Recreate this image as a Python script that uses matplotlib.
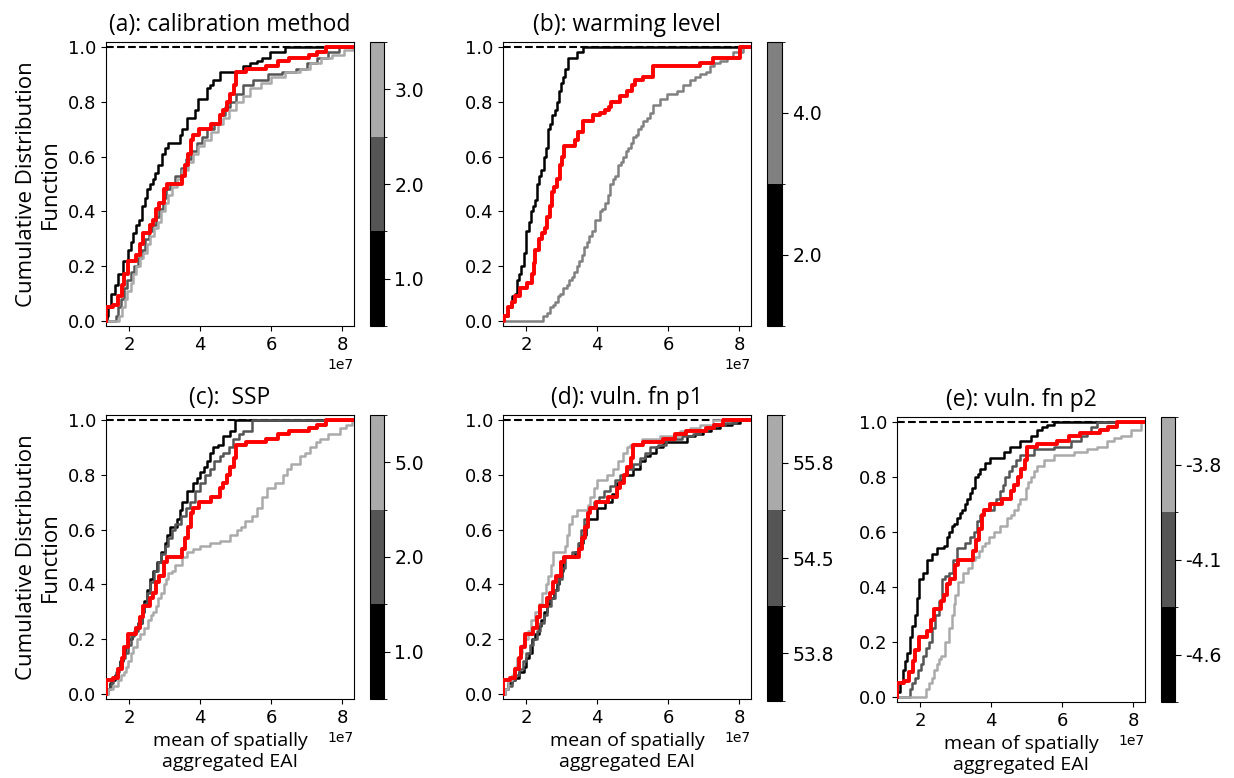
import matplotlib
matplotlib.use("Agg")
import matplotlib.pyplot as plt
import numpy as np
from matplotlib.colors import ListedColormap, BoundaryNorm
from matplotlib.cm import ScalarMappable

UNIT = 1e7
X_MIN, X_MAX = 1.35, 8.33

# ---------------- data (x in units of 1e7, cumulative fraction) ----------------
# overall distribution (red) used in panels a, c, d, e
all_x = [1.35, 1.55, 1.7, 1.8, 1.86, 1.97, 2.2, 2.3, 2.4, 2.6, 2.68, 2.75, 2.85, 2.98, 3.08,
         3.5, 3.58, 3.66, 3.75, 3.8, 3.98, 4.3, 4.55, 4.65, 4.75, 4.85, 4.95, 5.02, 5.3, 5.85,
         6.2, 6.5, 7.05, 7.3, 7.55]
all_y = [0.05, 0.06, 0.09, 0.13, 0.17, 0.22, 0.24, 0.28, 0.32, 0.35, 0.37, 0.41, 0.43, 0.48, 0.5,
         0.53, 0.57, 0.61, 0.66, 0.68, 0.7, 0.72, 0.75, 0.77, 0.8, 0.83, 0.86, 0.91, 0.92, 0.93,
         0.95, 0.96, 0.97, 0.98, 1.0]

# (a) calibration method
a_labels = ["1.0", "2.0", "3.0"]
a1_x = [1.37, 1.42, 1.5, 1.6, 1.7, 1.84, 1.98, 2.06, 2.12, 2.2, 2.28, 2.36, 2.44, 2.5, 2.59,
        2.66, 2.73, 2.82, 2.92, 3.0, 3.1, 3.43, 3.5, 3.62, 3.86, 3.95, 4.18, 4.28, 4.37, 4.56,
        5.21, 5.4, 5.59, 5.75, 5.96, 6.39]
a1_y = [0.02, 0.05, 0.1, 0.13, 0.17, 0.22, 0.26, 0.29, 0.32, 0.35, 0.37, 0.42, 0.45, 0.48, 0.5,
        0.52, 0.54, 0.57, 0.61, 0.63, 0.65, 0.68, 0.7, 0.74, 0.77, 0.81, 0.85, 0.86, 0.88, 0.91,
        0.93, 0.94, 0.95, 0.96, 0.98, 1.0]
a2_x = [1.62, 1.7, 1.78, 1.86, 1.95, 2.05, 2.15, 2.25, 2.35, 2.45, 2.55, 2.65, 2.75, 2.85, 2.95,
        3.05, 3.15, 3.3, 3.45, 3.6, 3.75, 3.9, 4.05, 4.2, 4.4, 4.55, 4.7, 4.85, 5.0, 5.2,
        5.5, 5.9, 6.3, 6.7, 7.0, 7.3, 7.6, 7.9]
a2_y = [0.02, 0.05, 0.08, 0.12, 0.15, 0.18, 0.2, 0.23, 0.26, 0.3, 0.33, 0.35, 0.38, 0.41, 0.45,
        0.48, 0.5, 0.53, 0.56, 0.59, 0.62, 0.65, 0.67, 0.7, 0.72, 0.75, 0.78, 0.8, 0.83, 0.86,
        0.88, 0.9, 0.91, 0.92, 0.94, 0.96, 0.98, 1.0]
a3_x = [1.72, 1.8, 1.88, 1.95, 2.05, 2.12, 2.2, 2.3, 2.4, 2.5, 2.6, 2.7, 2.8, 2.9, 3.0,
        3.1, 3.2, 3.35, 3.5, 3.65, 3.8, 3.95, 4.1, 4.3, 4.5, 4.65, 4.8, 5.0, 5.2, 5.4,
        5.7, 6.0, 6.4, 6.8, 7.1, 7.4, 7.7, 8.05, 8.3]
a3_y = [0.02, 0.05, 0.08, 0.11, 0.14, 0.17, 0.2, 0.23, 0.25, 0.28, 0.31, 0.34, 0.36, 0.4, 0.43,
        0.46, 0.49, 0.52, 0.55, 0.58, 0.61, 0.64, 0.66, 0.69, 0.72, 0.74, 0.77, 0.8, 0.82, 0.85,
        0.87, 0.89, 0.91, 0.92, 0.94, 0.96, 0.97, 0.99, 1.0]

# (b) warming level
b_labels = ["2.0", "4.0"]
b1_x = [1.36, 1.48, 1.6, 1.69, 1.74, 1.8, 1.86, 1.93, 2.0, 2.08, 2.15, 2.2, 2.25, 2.3, 2.36,
        2.42, 2.49, 2.56, 2.63, 2.68, 2.74, 2.8, 2.86, 2.92, 2.98, 3.04, 3.1, 3.19, 3.42, 3.61]
b1_y = [0.02, 0.05, 0.09, 0.1, 0.15, 0.17, 0.2, 0.25, 0.33, 0.36, 0.4, 0.42, 0.44, 0.5, 0.53,
        0.55, 0.6, 0.63, 0.7, 0.72, 0.75, 0.77, 0.8, 0.84, 0.87, 0.89, 0.92, 0.96, 0.98, 1.0]
b2_x = [2.47, 2.6, 2.67, 2.75, 2.82, 2.9, 2.96, 3.05, 3.14, 3.2, 3.28, 3.35, 3.42, 3.5, 3.57,
        3.64, 3.71, 3.78, 3.85, 3.94, 4.08, 4.15, 4.22, 4.3, 4.36, 4.45, 4.5, 4.6, 4.67, 4.74,
        4.81, 4.88, 4.95, 5.02, 5.1, 5.16, 5.23, 5.3, 5.4, 5.49, 5.58, 5.77, 5.96, 6.24, 6.42,
        6.61, 6.75, 6.89, 7.05, 7.17, 7.3, 7.45, 7.65, 7.83, 8.1]
b2_y = [0.02, 0.03, 0.05, 0.06, 0.07, 0.09, 0.1, 0.12, 0.13, 0.15, 0.16, 0.18, 0.2, 0.22, 0.24,
        0.27, 0.29, 0.31, 0.33, 0.37, 0.4, 0.41, 0.43, 0.46, 0.5, 0.52, 0.53, 0.57, 0.58, 0.6,
        0.62, 0.63, 0.65, 0.67, 0.68, 0.7, 0.71, 0.73, 0.74, 0.76, 0.79, 0.81, 0.83, 0.84, 0.86,
        0.88, 0.89, 0.9, 0.91, 0.93, 0.94, 0.95, 0.96, 0.98, 1.0]
b_all_x = [1.38, 1.5, 1.6, 1.69, 1.83, 2.02, 2.16, 2.22, 2.25, 2.35, 2.44, 2.53, 2.6, 2.66, 2.72,
           2.78, 2.86, 2.96, 3.02, 3.07, 3.38, 3.47, 3.61, 3.89, 4.08, 4.22, 4.32, 4.4, 4.64, 4.83,
           4.97, 5.06, 5.3, 5.58, 6.89, 7.27, 8.02]
b_all_y = [0.02, 0.05, 0.07, 0.09, 0.12, 0.14, 0.17, 0.21, 0.26, 0.3, 0.32, 0.34, 0.38, 0.42, 0.47,
           0.49, 0.52, 0.57, 0.6, 0.64, 0.66, 0.69, 0.73, 0.75, 0.76, 0.77, 0.78, 0.8, 0.82, 0.84,
           0.86, 0.88, 0.89, 0.93, 0.94, 0.96, 1.0]

# (c) SSP
c_labels = ["1.0", "2.0", "5.0"]
c1_x = [1.37, 1.45, 1.52, 1.6, 1.68, 1.75, 1.82, 1.89, 1.98, 2.07, 2.18, 2.26, 2.36, 2.42, 2.5,
        2.59, 2.68, 2.78, 2.9, 3.01, 3.08, 3.15, 3.34, 3.42, 3.48, 3.62, 3.81, 3.9, 4.0, 4.1,
        4.18, 4.28, 4.37, 4.51, 4.65, 4.84, 4.98]
c1_y = [0.02, 0.04, 0.05, 0.07, 0.09, 0.12, 0.15, 0.17, 0.2, 0.22, 0.24, 0.26, 0.3, 0.34, 0.38,
        0.42, 0.45, 0.48, 0.52, 0.55, 0.58, 0.61, 0.64, 0.67, 0.7, 0.74, 0.77, 0.79, 0.81, 0.83,
        0.85, 0.88, 0.9, 0.91, 0.94, 0.96, 1.0]
c2_x = [1.4, 1.48, 1.56, 1.64, 1.72, 1.8, 1.88, 1.96, 2.05, 2.15, 2.25, 2.35, 2.42, 2.5, 2.6,
        2.7, 2.8, 2.9, 3.0, 3.1, 3.2, 3.3, 3.45, 3.6, 3.72, 3.85, 4.0, 4.15, 4.28, 4.4,
        4.55, 4.65, 4.8, 4.93, 5.1, 5.21, 5.45]
c2_y = [0.02, 0.04, 0.06, 0.08, 0.1, 0.13, 0.15, 0.18, 0.21, 0.23, 0.26, 0.3, 0.33, 0.37, 0.41,
        0.45, 0.48, 0.51, 0.54, 0.57, 0.6, 0.62, 0.65, 0.68, 0.7, 0.74, 0.77, 0.8, 0.82, 0.85,
        0.87, 0.88, 0.9, 0.93, 0.95, 0.96, 1.0]
c3_x = [1.42, 1.55, 1.7, 1.78, 1.85, 1.92, 1.98, 2.05, 2.12, 2.22, 2.32, 2.42, 2.54, 2.62, 2.68,
        2.75, 2.82, 2.9, 2.97, 3.05, 3.1, 3.2, 3.3, 3.48, 3.62, 3.8, 4.0, 4.28, 4.56, 4.84,
        5.03, 5.15, 5.26, 5.45, 5.59, 5.73, 5.87, 6.1, 6.34, 6.45, 6.57, 6.81, 6.95, 7.09, 7.25,
        7.37, 7.6, 7.93, 8.1, 8.26]
c3_y = [0.02, 0.03, 0.05, 0.07, 0.08, 0.1, 0.12, 0.15, 0.17, 0.2, 0.22, 0.24, 0.27, 0.29, 0.3,
        0.32, 0.35, 0.37, 0.4, 0.42, 0.44, 0.45, 0.47, 0.5, 0.52, 0.53, 0.54, 0.55, 0.56, 0.58,
        0.6, 0.61, 0.63, 0.65, 0.68, 0.72, 0.75, 0.77, 0.8, 0.82, 0.84, 0.87, 0.88, 0.9, 0.92,
        0.93, 0.95, 0.97, 0.98, 1.0]

# (d) vuln. fn p1
d_labels = ["53.8", "54.5", "55.8"]
d1_x = [1.41, 1.5, 1.6, 1.69, 1.8, 1.93, 2.0, 2.08, 2.16, 2.25, 2.35, 2.42, 2.49, 2.58, 2.67,
        2.78, 2.86, 2.94, 3.0, 3.05, 3.38, 3.5, 3.61, 3.68, 3.75, 3.99, 4.22, 4.41, 4.55, 4.65,
        4.74, 5.02, 5.21, 5.35, 5.49, 5.67, 5.86, 6.52, 6.75, 6.99, 7.2, 7.45, 7.8, 8.02]
d1_y = [0.02, 0.04, 0.05, 0.06, 0.08, 0.1, 0.13, 0.15, 0.2, 0.22, 0.25, 0.27, 0.3, 0.33, 0.35,
        0.38, 0.4, 0.43, 0.45, 0.5, 0.52, 0.55, 0.58, 0.62, 0.64, 0.68, 0.7, 0.73, 0.77, 0.78,
        0.8, 0.82, 0.85, 0.87, 0.88, 0.9, 0.92, 0.94, 0.95, 0.96, 0.97, 0.98, 0.99, 1.0]
d2_x = [1.4, 1.5, 1.6, 1.7, 1.8, 1.9, 2.0, 2.1, 2.2, 2.3, 2.4, 2.5, 2.6, 2.7, 2.8,
        2.9, 3.0, 3.1, 3.3, 3.45, 3.55, 3.62, 3.75, 3.9, 4.05, 4.2, 4.35, 4.5, 4.64, 4.8,
        5.0, 5.2, 5.35, 5.49, 5.7, 5.95, 6.4, 6.7, 6.9, 7.1, 7.3, 7.6, 7.9]
d2_y = [0.02, 0.03, 0.05, 0.07, 0.09, 0.12, 0.15, 0.18, 0.2, 0.23, 0.26, 0.29, 0.32, 0.35, 0.38,
        0.42, 0.46, 0.5, 0.52, 0.55, 0.6, 0.64, 0.68, 0.7, 0.72, 0.74, 0.76, 0.78, 0.8, 0.82,
        0.84, 0.86, 0.88, 0.9, 0.91, 0.93, 0.94, 0.95, 0.96, 0.97, 0.98, 0.99, 1.0]
d3_x = [1.42, 1.5, 1.6, 1.68, 1.75, 1.82, 1.88, 1.95, 2.05, 2.15, 2.25, 2.35, 2.45, 2.55, 2.63,
        2.7, 2.77, 3.1, 3.14, 3.22, 3.28, 3.42, 3.75, 3.8, 3.9, 3.99, 4.27, 4.46, 4.6, 4.74,
        4.83, 4.92, 5.25, 5.77, 6.33, 6.61, 6.9, 7.27]
d3_y = [0.02, 0.05, 0.07, 0.1, 0.13, 0.15, 0.18, 0.2, 0.23, 0.27, 0.3, 0.33, 0.37, 0.4, 0.43,
        0.47, 0.52, 0.54, 0.58, 0.62, 0.65, 0.67, 0.69, 0.72, 0.75, 0.78, 0.8, 0.82, 0.85, 0.88,
        0.9, 0.91, 0.93, 0.94, 0.96, 0.97, 0.98, 1.0]

# (e) vuln. fn p2
e_labels = ["-4.6", "-4.1", "-3.8"]
e1_x = [1.36, 1.44, 1.51, 1.58, 1.64, 1.72, 1.78, 1.86, 1.91, 1.98, 2.09, 2.19, 2.33, 2.47, 2.66,
        2.75, 2.82, 2.89, 2.96, 3.04, 3.12, 3.18, 3.25, 3.32, 3.4, 3.46, 3.55, 3.62, 3.69, 3.84,
        3.98, 4.35, 4.54, 4.82, 5.11, 5.3, 5.44, 5.58, 5.77]
e1_y = [0.02, 0.05, 0.1, 0.13, 0.16, 0.22, 0.26, 0.3, 0.36, 0.43, 0.45, 0.5, 0.52, 0.54, 0.55,
        0.58, 0.6, 0.62, 0.63, 0.65, 0.67, 0.68, 0.7, 0.72, 0.74, 0.76, 0.8, 0.81, 0.83, 0.85,
        0.87, 0.89, 0.91, 0.93, 0.95, 0.97, 0.98, 0.99, 1.0]
e2_x = [1.72, 1.78, 1.86, 1.95, 2.02, 2.09, 2.16, 2.24, 2.33, 2.42, 2.52, 2.61, 2.7, 2.8, 2.94,
        3.04, 3.27, 3.4, 3.51, 3.6, 3.7, 3.79, 4.07, 4.15, 4.26, 4.33, 4.4, 4.5, 4.59, 4.7,
        4.82, 5.2, 5.77, 6.24, 6.52, 6.7, 6.8, 6.99]
e2_y = [0.03, 0.05, 0.07, 0.1, 0.12, 0.15, 0.18, 0.2, 0.25, 0.3, 0.35, 0.43, 0.44, 0.45, 0.5,
        0.54, 0.56, 0.58, 0.6, 0.64, 0.66, 0.68, 0.7, 0.72, 0.75, 0.77, 0.8, 0.82, 0.84, 0.86,
        0.88, 0.9, 0.91, 0.93, 0.95, 0.96, 0.98, 1.0]
e3_x = [2.17, 2.25, 2.33, 2.4, 2.47, 2.52, 2.6, 2.71, 2.8, 2.89, 2.95, 2.99, 3.08, 3.22, 3.35,
        3.46, 3.55, 3.65, 3.75, 3.84, 3.95, 4.07, 4.26, 4.45, 4.55, 4.64, 4.75, 4.82, 4.97, 5.04,
        5.11, 5.2, 5.3, 5.48, 5.77, 6.33, 6.71, 6.99, 7.27, 7.45, 7.65, 7.93, 8.21]
e3_y = [0.03, 0.05, 0.07, 0.1, 0.12, 0.14, 0.15, 0.2, 0.25, 0.3, 0.34, 0.37, 0.42, 0.45, 0.47,
        0.5, 0.51, 0.53, 0.55, 0.56, 0.58, 0.6, 0.62, 0.65, 0.66, 0.68, 0.7, 0.72, 0.76, 0.78,
        0.8, 0.82, 0.84, 0.86, 0.88, 0.89, 0.9, 0.91, 0.93, 0.94, 0.95, 0.97, 1.0]

titles = ["(a): calibration method", "(b): warming level", "(c):  SSP",
          "(d): vuln. fn p1", "(e): vuln. fn p2"]

GRAYS3 = ["#000000", "#555555", "#aaaaaa"]
GRAYS2 = ["#000000", "#808080"]

# ---------------- layout (pixel boxes: left, top, right, bottom) ----------------
W, H = 1234, 778


def box(l, t, r, b):
    return [l / W, 1 - b / H, (r - l) / W, (b - t) / H]


panels = [
    dict(title=titles[0], ax=(106, 42, 354, 326), cb=(370, 42, 384, 326),
         curves=[(a1_x, a1_y), (a2_x, a2_y), (a3_x, a3_y)], red=(all_x, all_y),
         colors=GRAYS3, labels=a_labels, ylabel=True, xlabel=False),
    dict(title=titles[1], ax=(503, 42, 751, 326), cb=(767, 42, 782, 326),
         curves=[(b1_x, b1_y), (b2_x, b2_y)], red=(b_all_x, b_all_y),
         colors=GRAYS2, labels=b_labels, ylabel=False, xlabel=False),
    dict(title=titles[2], ax=(106, 415, 354, 699), cb=(370, 415, 384, 699),
         curves=[(c1_x, c1_y), (c2_x, c2_y), (c3_x, c3_y)], red=(all_x, all_y),
         colors=GRAYS3, labels=c_labels, ylabel=True, xlabel=True),
    dict(title=titles[3], ax=(503, 415, 751, 699), cb=(767, 415, 782, 701),
         curves=[(d1_x, d1_y), (d2_x, d2_y), (d3_x, d3_y)], red=(all_x, all_y),
         colors=GRAYS3, labels=d_labels, ylabel=False, xlabel=True),
    dict(title=titles[4], ax=(897, 417, 1145, 702), cb=(1161, 417, 1175, 702),
         curves=[(e1_x, e1_y), (e2_x, e2_y), (e3_x, e3_y)], red=(all_x, all_y),
         colors=GRAYS3, labels=e_labels, ylabel=False, xlabel=True),
]

LABEL_FONT = "Open Sans"

fig = plt.figure(figsize=(12.34, 7.78), dpi=100)


def step_curve(ax, xs, ys, **kw):
    xx = np.array([X_MIN] + list(xs) + [X_MAX]) * UNIT
    yy = np.array([0.0] + list(ys) + [1.0])
    ax.step(xx, yy, where="post", **kw)


for p in panels:
    ax = fig.add_axes(box(*p["ax"]))
    ax.axhline(1.0, color="black", ls="--", lw=1.5, zorder=1)
    for (cx, cy), col in zip(p["curves"], p["colors"]):
        step_curve(ax, cx, cy, color=col, lw=1.8, zorder=2)
    step_curve(ax, p["red"][0], p["red"][1], color="#ff0000", lw=2.8, zorder=3)
    ax.set_xlim(X_MIN * UNIT, X_MAX * UNIT)
    ax.set_ylim(-0.018, 1.018)
    ax.set_xticks(np.array([2, 4, 6, 8]) * UNIT)
    ax.set_yticks([0.0, 0.2, 0.4, 0.6, 0.8, 1.0])
    ax.tick_params(labelsize=13)
    ax.ticklabel_format(axis="x", style="sci", scilimits=(0, 0))
    ax.xaxis.get_offset_text().set_fontsize(10)
    ax.set_title(p["title"], fontname=LABEL_FONT, fontsize=16.5, pad=8)
    if p["ylabel"]:
        ax.set_ylabel("Cumulative Distribution\nFunction", fontname=LABEL_FONT, fontsize=16,
                      labelpad=5)
    if p["xlabel"]:
        ax.set_xlabel("mean of spatially\naggregated EAI", fontname=LABEL_FONT, fontsize=14,
                      labelpad=4)

    n = len(p["colors"])
    cmap = ListedColormap(p["colors"])
    norm = BoundaryNorm(np.arange(n + 1), n)
    cax = fig.add_axes(box(*p["cb"]))
    cb = fig.colorbar(ScalarMappable(norm=norm, cmap=cmap), cax=cax,
                      ticks=np.arange(n) + 0.5)
    cb.ax.set_yticklabels(p["labels"], fontsize=13.5)
    cb.ax.tick_params(length=4)

fig.savefig("out.png", dpi=100)
